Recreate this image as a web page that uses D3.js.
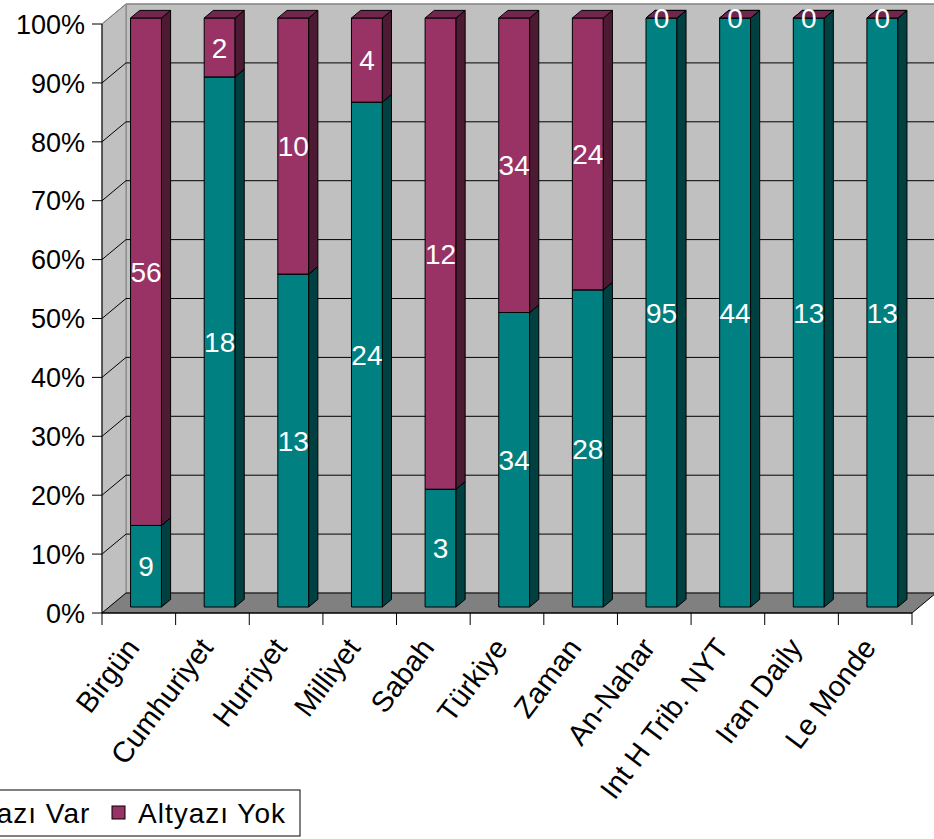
<!DOCTYPE html>
<html>
<head>
<meta charset="utf-8">
<script src="https://cdn.jsdelivr.net/npm/d3@7"></script>
<style>
  body { margin: 0; background: #fff; }
  text { font-family: "Liberation Sans", Arial, sans-serif; }
</style>
</head>
<body>
<svg width="934" height="839"></svg>
<script>
var categories = ["Birgün", "Cumhuriyet", "Hurriyet", "Milliyet", "Sabah", "Türkiye",
    "Zaman", "An-Nahar", "Int H Trib. NYT", "Iran Daily", "Le Monde"];
var altyaziVar = [9, 18, 13, 24, 3, 34, 28, 95, 44, 13, 13];
var altyaziYok = [56, 2, 10, 4, 12, 34, 24, 0, 0, 0, 0];
var seriesNames = ["Altyazı Var", "Altyazı Yok"];
var yTicks = [0, 0.1, 0.2, 0.3, 0.4, 0.5, 0.6, 0.7, 0.8, 0.9, 1];

var svg = d3.select("svg");

// front plane of the plot, and the depth offset of the 3d box
var pLeft = 102, pRight = 912, pBottom = 613, pTop = 24;
var DX = 24, DY = -20;

var x = d3.scaleBand()
    .domain(categories)
    .range([pLeft, pRight])
    .paddingInner(0.58)
    .paddingOuter(0.29);

var y = d3.scaleLinear().domain([0, 1]).range([pBottom, pTop]);

var colors = { front: ["#008080", "#993366"], side: ["#004040", "#4d1a33"], top: ["#006060", "#73264d"] };

// walls
svg.append("polygon")   // back wall
    .attr("points", [[pLeft + DX, pTop + DY], [pRight + DX, pTop + DY], [pRight + DX, pBottom + DY], [pLeft + DX, pBottom + DY]].join(" "))
    .attr("fill", "#c0c0c0").attr("stroke", "#808080");
svg.append("polygon")   // side wall
    .attr("points", [[pLeft, pTop], [pLeft + DX, pTop + DY], [pLeft + DX, pBottom + DY], [pLeft, pBottom]].join(" "))
    .attr("fill", "#c0c0c0").attr("stroke", "#808080");
svg.append("polygon")   // floor
    .attr("points", [[pLeft, pBottom], [pRight, pBottom], [pRight + DX, pBottom + DY], [pLeft + DX, pBottom + DY]].join(" "))
    .attr("fill", "#808080").attr("stroke", "#000").attr("stroke-width", 1);

// gridlines
var grid = svg.append("g");
yTicks.slice(1).forEach(function (t) {
    var yy = y(t);
    grid.append("line")
        .attr("x1", pLeft + DX).attr("x2", pRight + DX)
        .attr("y1", yy + DY).attr("y2", yy + DY)
        .attr("stroke", t === 1 ? "#808080" : "#000").attr("stroke-width", 1);
    grid.append("line")
        .attr("x1", pLeft).attr("x2", pLeft + DX)
        .attr("y1", yy).attr("y2", yy + DY)
        .attr("stroke", t === 1 ? "#808080" : "#000").attr("stroke-width", 1);
});

// stacked data as fractions
var rows = categories.map(function (c, i) {
    return { name: c, v0: altyaziVar[i], v1: altyaziYok[i] };
});
var stack = d3.stack()
    .keys(["v0", "v1"])
    .offset(d3.stackOffsetExpand);
var layers = stack(rows);

// bar sits between these fractions of the depth
var f0 = 0.3, f1 = 0.68;
var ox = DX * f0, oy = DY * f0;
var bx = DX * (f1 - f0), by = DY * (f1 - f0);
var bw = x.bandwidth();

var bars = svg.append("g").attr("stroke", "#000").attr("stroke-width", 1).attr("stroke-linejoin", "round");
rows.forEach(function (r, i) {
    layers.forEach(function (layer, k) {
        var d = layer[i];
        var xl = x(r.name) + ox, xr = xl + bw;
        var yb = y(d[0]) + oy, yt = y(d[1]) + oy;
        bars.append("rect")
            .attr("x", xl).attr("y", yt)
            .attr("width", bw).attr("height", yb - yt)
            .attr("fill", colors.front[k]);
        bars.append("polygon")
            .attr("points", [[xr, yt], [xr + bx, yt + by], [xr + bx, yb + by], [xr, yb]].join(" "))
            .attr("fill", colors.side[k]);
        bars.append("polygon")
            .attr("points", [[xl, yt], [xl + bx, yt + by], [xr + bx, yt + by], [xr, yt]].join(" "))
            .attr("fill", colors.top[k]);
    });
});

// data labels
var labels = svg.append("g")
    .attr("fill", "#fff")
    .attr("font-size", 28)
    .attr("text-anchor", "middle");
rows.forEach(function (r, i) {
    layers.forEach(function (layer, k) {
        var d = layer[i];
        labels.append("text")
            .attr("x", x(r.name) + ox + bw / 2)
            .attr("y", y((d[0] + d[1]) / 2) + oy)
            .attr("dy", "0.36em")
            .text(k === 0 ? r.v0 : r.v1);
    });
});

// axes
var yAxis = svg.append("g");
yAxis.append("line").attr("x1", pLeft).attr("x2", pLeft).attr("y1", pTop).attr("y2", pBottom).attr("stroke", "#000");
yTicks.forEach(function (t) {
    yAxis.append("line").attr("x1", pLeft - 10).attr("x2", pLeft)
        .attr("y1", y(t)).attr("y2", y(t)).attr("stroke", "#000");
    yAxis.append("text")
        .attr("x", 85).attr("y", y(t)).attr("dy", "0.36em")
        .attr("text-anchor", "end").attr("font-size", 27)
        .text(d3.format(".0%")(t));
});

var xAxis = svg.append("g");
xAxis.append("line").attr("x1", pLeft).attr("x2", pRight).attr("y1", pBottom).attr("y2", pBottom).attr("stroke", "#000");
d3.range(categories.length + 1).forEach(function (i) {
    var xx = pLeft + i * x.step();
    xAxis.append("line").attr("x1", xx).attr("x2", xx)
        .attr("y1", pBottom).attr("y2", pBottom + 12).attr("stroke", "#000");
});
categories.forEach(function (c) {
    var cx = x(c) + bw / 2 + 2, cy = 648;
    xAxis.append("text")
        .attr("transform", "translate(" + cx + "," + cy + ") rotate(-53)")
        .attr("text-anchor", "end").attr("font-size", 29)
        .text(c);
});

// legend
var legend = svg.append("g");
legend.append("rect")
    .attr("x", -110).attr("y", 790).attr("width", 410).attr("height", 46)
    .attr("fill", "#fff").attr("stroke", "#000");
var legendX = [-80, 112];
seriesNames.forEach(function (s, k) {
    legend.append("rect")
        .attr("x", legendX[k]).attr("y", 806).attr("width", 13).attr("height", 13)
        .attr("fill", colors.front[k]).attr("stroke", "#000");
    legend.append("text")
        .attr("x", legendX[k] + 26).attr("y", 813).attr("dy", "0.36em")
        .attr("font-size", 28).attr("letter-spacing", 1)
        .text(s);
});
</script>
</body>
</html>
